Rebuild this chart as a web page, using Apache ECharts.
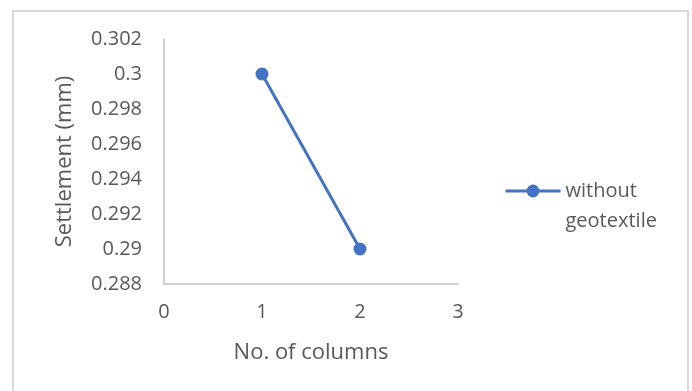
<!DOCTYPE html>
<html>
<head>
<meta charset="utf-8">
<script src="https://cdn.jsdelivr.net/npm/echarts@6/dist/echarts.min.js"></script>
<style>html,body{margin:0;padding:0;background:#fff;}#c{width:692px;height:391px;}</style>
</head>
<body>
<div id="c"></div>
<script>
const seriesName = 'without geotextile';
const xValues = [1, 2];
const yValues = [0.300, 0.290];
const xAxisName = 'No. of columns';
const yAxisName = 'Settlement (mm)';

const FONT = 'Open Sans';
const TXT = '#595959';
const chart = echarts.init(document.getElementById('c'), null, {renderer: 'canvas'});
chart.setOption({
  animation: false,
  backgroundColor: '#fff',
  textStyle: {fontFamily: FONT},
  graphic: [{
    type: 'rect', shape: {x: 13, y: 11, width: 675, height: 400},
    style: {fill: 'none', stroke: '#D9D9D9', lineWidth: 2}, silent: true
  }],
  grid: {left: 164, right: 234, top: 39, bottom: 107, containLabel: false},
  xAxis: {
    type: 'value', min: 0, max: 3, interval: 1,
    name: xAxisName, nameLocation: 'middle', nameGap: 58,
    nameTextStyle: {color: TXT, fontSize: 22, fontFamily: FONT},
    axisLine: {show: true, lineStyle: {color: '#BFBFBF', width: 1.5}},
    axisTick: {show: false},
    splitLine: {show: false},
    axisLabel: {color: TXT, fontSize: 20, fontFamily: FONT, margin: 18}
  },
  yAxis: {
    type: 'value', min: 0.288, max: 0.302, interval: 0.002,
    name: yAxisName, nameLocation: 'middle', nameGap: 88, nameRotate: 90,
    nameTextStyle: {color: TXT, fontSize: 22, fontFamily: FONT},
    axisLine: {show: true, lineStyle: {color: '#BFBFBF', width: 1.5}},
    axisTick: {show: false},
    splitLine: {show: false},
    axisLabel: {color: TXT, fontSize: 20, fontFamily: FONT, margin: 22,
      formatter: v => String(+v.toFixed(3))}
  },
  legend: {
    left: 504, top: 146, padding: 0, orient: 'vertical',
    itemWidth: 55, itemHeight: 16, itemGap: 10,
    lineStyle: {width: 3},
    formatter: n => {
      const parts = n.split(' ');
      return '{e| }\n{t|' + parts[0] + '}\n{t|' + parts.slice(1).join(' ') + '}';
    },
    textStyle: {color: TXT, fontSize: 20, fontFamily: FONT,
      rich: {
        e: {lineHeight: 30, height: 30, fontSize: 20},
        t: {lineHeight: 30, fontSize: 20, color: TXT, fontFamily: FONT}
      }
    },
    data: [{name: seriesName}]
  },
  series: [{
    name: seriesName, type: 'line',
    data: xValues.map((x, i) => [x, yValues[i]]),
    symbol: 'circle', symbolSize: 13,
    lineStyle: {color: '#4472C4', width: 3},
    itemStyle: {color: '#4472C4'}
  }]
});
</script>
</body>
</html>
